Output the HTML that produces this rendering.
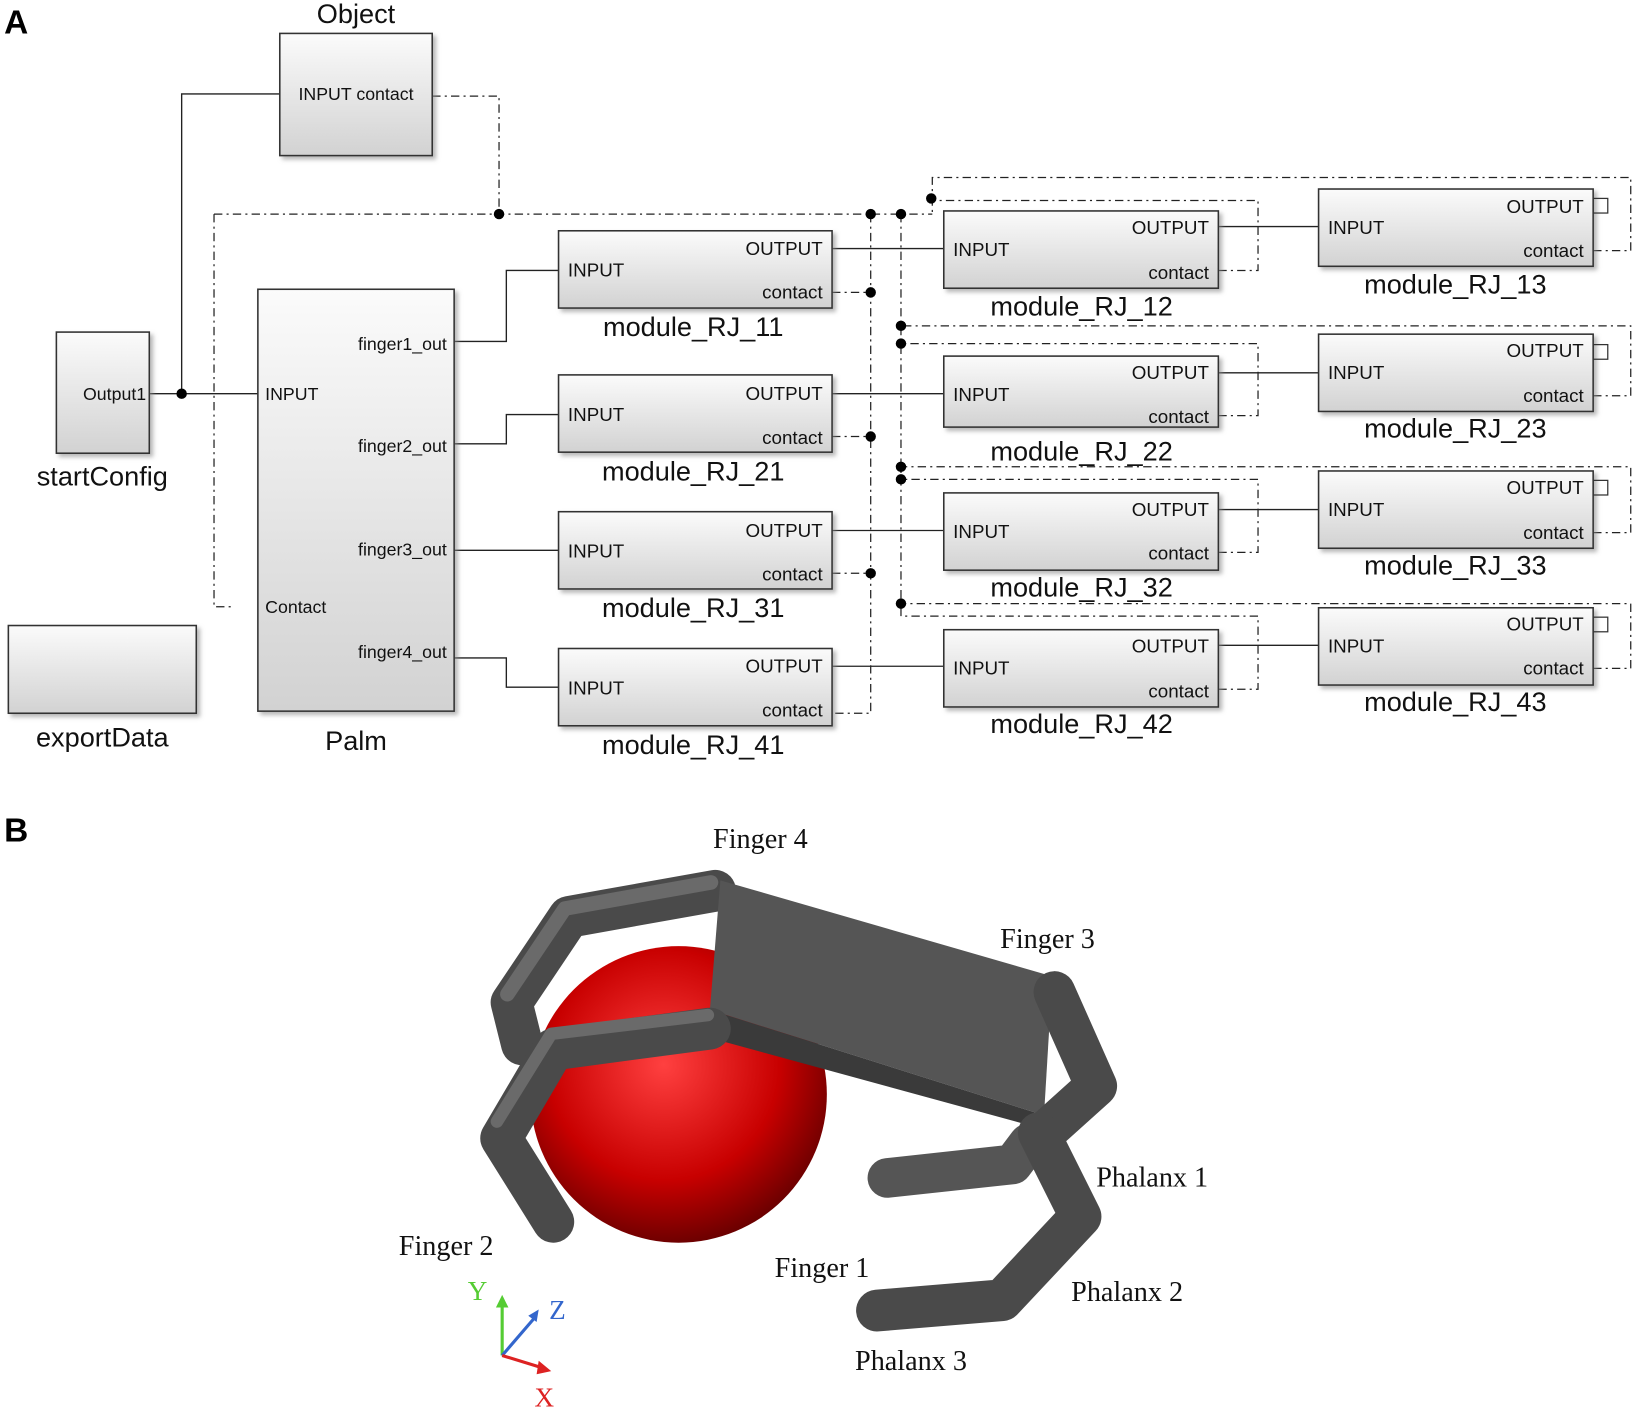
<!DOCTYPE html>
<html><head><meta charset="utf-8"><style>html,body{margin:0;padding:0;background:#fff}svg{display:block}</style></head><body>
<svg width="1637" height="1415" viewBox="0 0 1568 1355" preserveAspectRatio="none" xmlns="http://www.w3.org/2000/svg">
<defs>
<linearGradient id="g" x1="0" y1="0" x2="0" y2="1"><stop offset="0" stop-color="#fbfbfb"/><stop offset="1" stop-color="#d2d2d2"/></linearGradient>
<filter id="sh"><feDropShadow dx="3" dy="3" stdDeviation="2" flood-color="#888" flood-opacity="0.6"/></filter>
<radialGradient id="rg" cx="0.45" cy="0.4" r="0.65"><stop offset="0" stop-color="#ff4040"/><stop offset="0.6" stop-color="#c80000"/><stop offset="1" stop-color="#5a0000"/></radialGradient>
</defs>
<g font-family="Liberation Sans, sans-serif">
<text x="4" y="32" font-size="32" font-weight="bold">A</text>
<text x="4" y="806" font-size="32" font-weight="bold">B</text>
<!-- solid lines -->
<g stroke="#222" stroke-width="1.3" fill="none">
<path d="M143 377H247M174 377V90H268"/>
<path d="M435 327H485V259H535M435 425H485V397H535M435 527H535M435 630H485V658H535"/>
<path d="M797 238H904M797 377H904M797 508H904M797 638H904"/>
<path d="M1167 217H1263M1167 357H1263M1167 488H1263M1167 618H1263"/>
</g>
<!-- dash-dot lines -->
<g stroke="#222" stroke-width="1.2" fill="none" stroke-dasharray="8 4 2 4">
<path d="M414 92H478V205M205 205H893M205 205V581H222"/>
<path d="M834 205V683H797M797 280H834M797 418H834M797 549H834"/>
<path d="M863 205V578"/>
<path d="M1167 259H1205V192H893V205M1526 240H1562V170H893V190"/>
<path d="M1167 398H1205V329H863M1526 379H1562V312H863"/>
<path d="M1167 529H1205V459H863M1526 510H1562V447H863"/>
<path d="M1167 660H1205V590H863V578M1526 640H1562V578H863"/>
</g>
<g fill="#000">
<circle cx="174" cy="377" r="5"/><circle cx="478" cy="205" r="5"/><circle cx="834" cy="205" r="5"/><circle cx="863" cy="205" r="5"/><circle cx="892" cy="190" r="5"/>
<circle cx="834" cy="280" r="5"/><circle cx="834" cy="418" r="5"/><circle cx="834" cy="549" r="5"/>
<circle cx="863" cy="312" r="5"/><circle cx="863" cy="329" r="5"/><circle cx="863" cy="447" r="5"/><circle cx="863" cy="459" r="5"/><circle cx="863" cy="578" r="5"/>
</g>
<!-- blocks -->
<g fill="url(#g)" stroke="#333" stroke-width="1.5" filter="url(#sh)">
<rect x="268" y="32" width="146" height="117"/>
<rect x="54" y="318" width="89" height="116"/>
<rect x="8" y="599" width="180" height="84"/>
<rect x="247" y="277" width="188" height="404"/>
<rect x="535" y="221" width="262" height="74"/><rect x="535" y="359" width="262" height="74"/><rect x="535" y="490" width="262" height="74"/><rect x="535" y="621" width="262" height="74"/>
<rect x="904" y="202" width="263" height="74"/><rect x="904" y="341" width="263" height="68"/><rect x="904" y="472" width="263" height="74"/><rect x="904" y="603" width="263" height="74"/>
<rect x="1263" y="181" width="263" height="74"/><rect x="1263" y="320" width="263" height="74"/><rect x="1263" y="451" width="263" height="74"/><rect x="1263" y="582" width="263" height="74"/>
</g>
<g fill="none" stroke="#333" stroke-width="1.2">
<rect x="1526" y="190" width="14" height="14"/><rect x="1526" y="330" width="14" height="14"/><rect x="1526" y="460" width="14" height="14"/><rect x="1526" y="591" width="14" height="14"/>
</g>
<g font-size="17" fill="#111">
<text x="341" y="96" text-anchor="middle">INPUT contact</text>
<text x="140" y="383" text-anchor="end">Output1</text>
<text x="254" y="383">INPUT</text><text x="254" y="587">Contact</text>
<text x="428" y="335" text-anchor="end">finger1_out</text><text x="428" y="433" text-anchor="end">finger2_out</text><text x="428" y="532" text-anchor="end">finger3_out</text><text x="428" y="630" text-anchor="end">finger4_out</text>
</g>
<g font-size="18" fill="#111">
<text x="544" y="265">INPUT</text><text x="788" y="244" text-anchor="end">OUTPUT</text><text x="788" y="286" text-anchor="end">contact</text>
<text x="544" y="403">INPUT</text><text x="788" y="383" text-anchor="end">OUTPUT</text><text x="788" y="425" text-anchor="end">contact</text>
<text x="544" y="534">INPUT</text><text x="788" y="514" text-anchor="end">OUTPUT</text><text x="788" y="556" text-anchor="end">contact</text>
<text x="544" y="665">INPUT</text><text x="788" y="644" text-anchor="end">OUTPUT</text><text x="788" y="686" text-anchor="end">contact</text>
<text x="913" y="245">INPUT</text><text x="1158" y="224" text-anchor="end">OUTPUT</text><text x="1158" y="267" text-anchor="end">contact</text>
<text x="913" y="384">INPUT</text><text x="1158" y="363" text-anchor="end">OUTPUT</text><text x="1158" y="405" text-anchor="end">contact</text>
<text x="913" y="515">INPUT</text><text x="1158" y="494" text-anchor="end">OUTPUT</text><text x="1158" y="536" text-anchor="end">contact</text>
<text x="913" y="646">INPUT</text><text x="1158" y="625" text-anchor="end">OUTPUT</text><text x="1158" y="668" text-anchor="end">contact</text>
<text x="1272" y="224">INPUT</text><text x="1517" y="204" text-anchor="end">OUTPUT</text><text x="1517" y="246" text-anchor="end">contact</text>
<text x="1272" y="363">INPUT</text><text x="1517" y="342" text-anchor="end">OUTPUT</text><text x="1517" y="385" text-anchor="end">contact</text>
<text x="1272" y="494">INPUT</text><text x="1517" y="473" text-anchor="end">OUTPUT</text><text x="1517" y="516" text-anchor="end">contact</text>
<text x="1272" y="625">INPUT</text><text x="1517" y="604" text-anchor="end">OUTPUT</text><text x="1517" y="646" text-anchor="end">contact</text>
</g>
<g font-size="26" fill="#111" text-anchor="middle">
<text x="341" y="22">Object</text><text x="98" y="465">startConfig</text><text x="98" y="715">exportData</text><text x="341" y="718">Palm</text>
<text x="664" y="322">module_RJ_11</text><text x="664" y="460">module_RJ_21</text><text x="664" y="591">module_RJ_31</text><text x="664" y="722">module_RJ_41</text>
<text x="1036" y="302">module_RJ_12</text><text x="1036" y="441">module_RJ_22</text><text x="1036" y="571">module_RJ_32</text><text x="1036" y="702">module_RJ_42</text>
<text x="1394" y="281">module_RJ_13</text><text x="1394" y="419">module_RJ_23</text><text x="1394" y="550">module_RJ_33</text><text x="1394" y="681">module_RJ_43</text>
</g>
</g>
<!-- Part B -->
<g stroke-linecap="round" stroke-linejoin="round" fill="none">
<polyline points="685,853 545,878 490,960 500,1000" stroke="#4a4a4a" stroke-width="40"/>
<polyline points="685,853 545,878 490,960" stroke="#6a6a6a" stroke-width="14" transform="translate(-4,-8)"/>
</g>
<circle cx="650" cy="1048" r="142" fill="url(#rg)"/>
<polygon points="690,843 1008,935 1000,1068 680,967" fill="#555"/>
<polygon points="680,967 1000,1068 995,1080 684,995" fill="#3a3a3a"/>
<g stroke-linecap="round" stroke-linejoin="round" fill="none">
<polyline points="680,985 530,1005 480,1090 530,1170" stroke="#4a4a4a" stroke-width="40"/>
<polyline points="680,978 530,996 478,1080" stroke="#6a6a6a" stroke-width="12" transform="translate(-2,-6)"/>
<polyline points="1010,950 1050,1040 1000,1085" stroke="#4a4a4a" stroke-width="40"/>
<polyline points="985,1095 970,1115 850,1128" stroke="#555" stroke-width="38"/>
<polyline points="995,1085 1035,1165 960,1245 840,1255" stroke="#4a4a4a" stroke-width="40"/>
</g>
<g font-family="Liberation Serif, serif" font-size="27" fill="#111">
<text x="683" y="812">Finger 4</text><text x="958" y="908">Finger 3</text><text x="382" y="1202">Finger 2</text><text x="742" y="1223">Finger 1</text>
<text x="1050" y="1136">Phalanx 1</text><text x="1026" y="1246">Phalanx 2</text><text x="819" y="1312">Phalanx 3</text>
<text x="448" y="1245" fill="#5c3" font-size="26">Y</text><text x="526" y="1263" fill="#36c" font-size="26">Z</text><text x="512" y="1347" fill="#d22" font-size="26">X</text>
</g>
<g stroke-width="3">
<line x1="481" y1="1298" x2="481" y2="1248" stroke="#5c3"/><polygon points="475,1252 481,1240 487,1252" fill="#5c3"/>
<line x1="481" y1="1298" x2="512" y2="1262" stroke="#36c"/><polygon points="506,1260 516,1254 514,1266" fill="#36c"/>
<line x1="481" y1="1298" x2="520" y2="1310" stroke="#d22"/><polygon points="516,1303 528,1313 514,1316" fill="#d22"/>
</g>
</svg>
</body></html>
